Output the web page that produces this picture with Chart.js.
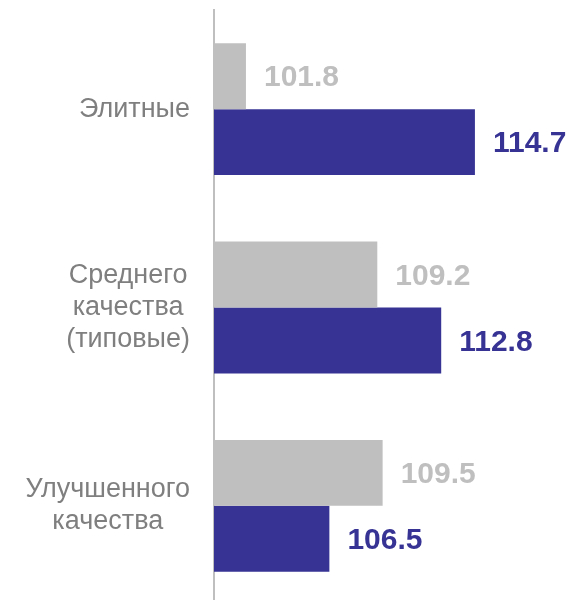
<!DOCTYPE html>
<html>
<head>
<meta charset="utf-8">
<script src="https://cdn.jsdelivr.net/npm/chart.js@4/dist/chart.umd.min.js"></script>
<style>
    html, body { margin: 0; padding: 0; background: #fff; overflow: hidden; }
    #wrap { position: relative; width: 572px; height: 605px; }
</style>
</head>
<body>
<div id="wrap"><canvas id="chart"></canvas></div>
<script>
// categories (multi-line labels as arrays)
const categories = [
    ['Элитные'],
    ['Среднего', 'качества', '(типовые)'],
    ['Улучшенного', 'качества']
];
// grey series (upper bar) and blue series (lower bar)
const greyValues = [101.8, 109.2, 109.5];
const blueValues = [114.7, 112.8, 106.5];

const GREY = '#bfbfbf';
const BLUE = '#363394';
const LABEL = '#7f7f7f';
const FONT = '"Liberation Sans", Arial, sans-serif';

// category labels: each block right-aligned, lines centered inside it
const categoryLabels = {
    id: 'categoryLabels',
    afterDraw(chart) {
        const ctx = chart.ctx;
        const yScale = chart.scales.y;
        const right = chart.chartArea.left - 24;
        const lineH = 32;
        ctx.save();
        ctx.font = '27px ' + FONT;
        ctx.fillStyle = LABEL;
        ctx.textAlign = 'center';
        ctx.textBaseline = 'middle';
        categories.forEach((lines, i) => {
            const yc = yScale.getPixelForValue(i);
            const maxW = Math.max(...lines.map(l => ctx.measureText(l).width));
            const xc = right - maxW / 2;
            const y0 = yc - (lines.length - 1) * lineH / 2;
            lines.forEach((l, k) => ctx.fillText(l, xc, y0 + k * lineH));
        });
        ctx.restore();
    }
};

// value labels at the end of each bar
const valueLabels = {
    id: 'valueLabels',
    afterDatasetsDraw(chart) {
        const ctx = chart.ctx;
        ctx.save();
        ctx.font = 'bold 30px ' + FONT;
        ctx.textAlign = 'left';
        ctx.textBaseline = 'middle';
        chart.data.datasets.forEach((ds, di) => {
            const meta = chart.getDatasetMeta(di);
            ctx.fillStyle = ds.backgroundColor;
            meta.data.forEach((bar, i) => {
                ctx.fillText(ds.data[i].toFixed(1), bar.x + 18, bar.y + 2);
            });
        });
        ctx.restore();
    }
};

new Chart(document.getElementById('chart'), {
    type: 'bar',
    data: {
        labels: categories,
        datasets: [
            {
                data: greyValues,
                backgroundColor: GREY,
                categoryPercentage: 0.665,
                barPercentage: 1.0
            },
            {
                data: blueValues,
                backgroundColor: BLUE,
                categoryPercentage: 0.665,
                barPercentage: 1.0
            }
        ]
    },
    options: {
        indexAxis: 'y',
        responsive: true,
        maintainAspectRatio: false,
        animation: false,
        layout: { padding: { top: 10, right: 3, bottom: 0, left: 0 } },
        plugins: {
            legend: { display: false },
            tooltip: { enabled: false }
        },
        scales: {
            x: {
                display: false,
                min: 100,
                max: 120
            },
            y: {
                grid: { display: false, drawTicks: false },
                border: { display: true, color: GREY, width: 2 },
                ticks: { display: false },
                afterFit: (s) => { s.width = 214; }
            }
        }
    },
    plugins: [categoryLabels, valueLabels]
});
</script>
</body>
</html>
